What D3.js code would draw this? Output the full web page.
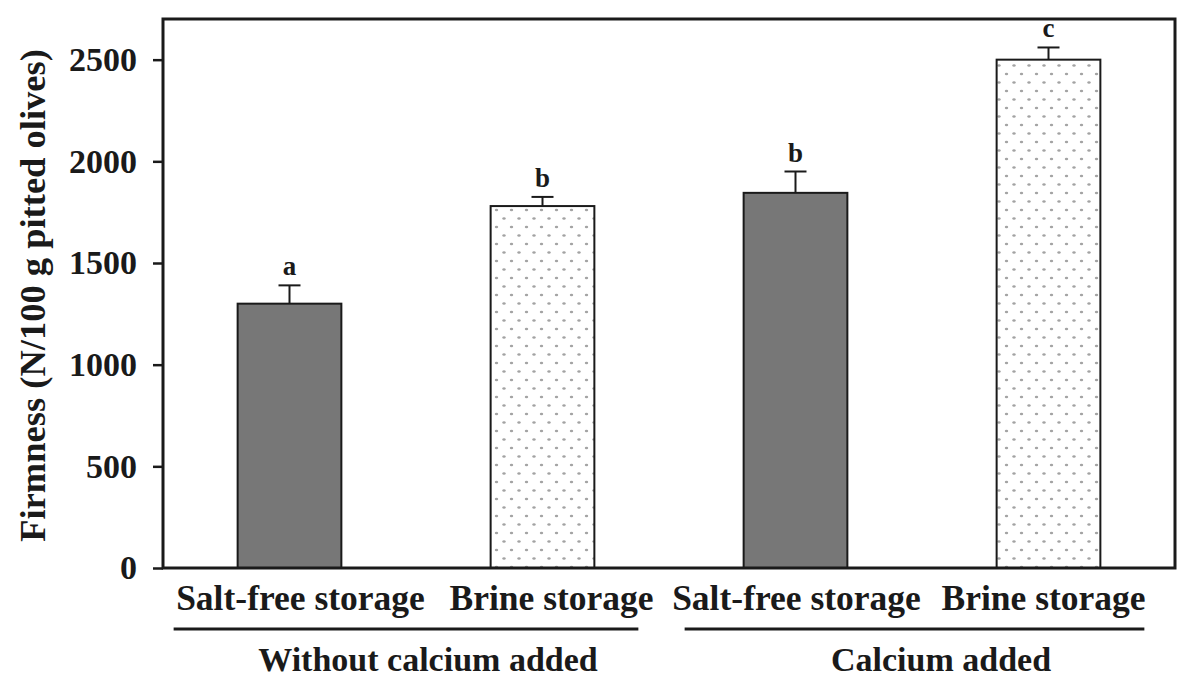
<!DOCTYPE html>
<html>
<head>
<meta charset="utf-8">
<script src="https://cdn.jsdelivr.net/npm/d3@7"></script>
<style>
  html, body { margin: 0; padding: 0; background: #fff; }
  svg { display: block; }
  text { font-family: "Liberation Serif", "Times New Roman", serif; font-weight: bold; fill: #1a1a1a; }
</style>
</head>
<body>
<svg id="chart" width="1185" height="688"></svg>
<script>
// Treatments, in drawing order
const categories = ["Salt-free storage", "Brine storage", "Salt-free storage", "Brine storage"];
const groups = ["Without calcium added", "Without calcium added", "Calcium added", "Calcium added"];
const groupNames = ["Without calcium added", "Calcium added"];
// Firmness means and standard deviations (N/100 g pitted olives)
const firmness = [1300, 1780, 1845, 2500];
const errors = [90, 45, 105, 60];
const letters = ["a", "b", "b", "c"];
const storage = ["salt", "brine", "salt", "brine"];
const yTicks = [0, 500, 1000, 1500, 2000, 2500];

const svg = d3.select("#chart");
const margin = { left: 163, right: 10, top: 19, bottom: 120 };
const W = 1185, H = 688;
const innerW = W - margin.left - margin.right;
const innerH = H - margin.top - margin.bottom;

// Stippled fill for the brine-storage bars
const defs = svg.append("defs");
const pat = defs.append("pattern")
  .attr("id", "dots").attr("patternUnits", "userSpaceOnUse")
  .attr("width", 15).attr("height", 17);
pat.append("rect").attr("width", 15).attr("height", 17).attr("fill", "#fff");
pat.append("ellipse").attr("cx", 3.5).attr("cy", 4).attr("rx", 1.7).attr("ry", 1.2).attr("fill", "#a3a3a3");
pat.append("ellipse").attr("cx", 11).attr("cy", 12.5).attr("rx", 1.7).attr("ry", 1.2).attr("fill", "#a3a3a3");

const g = svg.append("g").attr("transform", `translate(${margin.left},${margin.top})`);

const x = d3.scaleBand()
  .domain(d3.range(categories.length))
  .range([0, innerW])
  .paddingInner(0.59)
  .paddingOuter(0.295);

const y = d3.scaleLinear().domain([0, 2700]).range([innerH, 0]);

// Bars
g.selectAll("rect.bar")
  .data(firmness)
  .join("rect")
  .attr("class", "bar")
  .attr("x", (d, i) => x(i))
  .attr("y", d => y(d))
  .attr("width", x.bandwidth())
  .attr("height", d => innerH - y(d))
  .attr("fill", (d, i) => storage[i] === "salt" ? "#777777" : "url(#dots)")
  .attr("stroke", "#1a1a1a")
  .attr("stroke-width", 2);

// Upper error bars
const eb = g.selectAll("g.err").data(firmness).join("g").attr("class", "err");
eb.append("line")
  .attr("x1", (d, i) => x(i) + x.bandwidth() / 2)
  .attr("x2", (d, i) => x(i) + x.bandwidth() / 2)
  .attr("y1", d => y(d))
  .attr("y2", (d, i) => y(d + errors[i]))
  .attr("stroke", "#1a1a1a").attr("stroke-width", 2);
eb.append("line")
  .attr("x1", (d, i) => x(i) + x.bandwidth() / 2 - 11)
  .attr("x2", (d, i) => x(i) + x.bandwidth() / 2 + 11)
  .attr("y1", (d, i) => y(d + errors[i]))
  .attr("y2", (d, i) => y(d + errors[i]))
  .attr("stroke", "#1a1a1a").attr("stroke-width", 2);

// Significance letters
g.selectAll("text.sig")
  .data(firmness)
  .join("text")
  .attr("class", "sig")
  .attr("x", (d, i) => x(i) + x.bandwidth() / 2)
  .attr("y", (d, i) => y(d + errors[i]) - 10)
  .attr("text-anchor", "middle")
  .attr("font-size", 27)
  .text((d, i) => letters[i]);

// Frame
g.append("rect")
  .attr("x", 0).attr("y", 0).attr("width", innerW).attr("height", innerH)
  .attr("fill", "none").attr("stroke", "#1a1a1a").attr("stroke-width", 3);

// Y axis
const yAxis = g.append("g")
  .call(d3.axisLeft(y).tickValues(yTicks).tickSize(10).tickPadding(16).tickFormat(d3.format("d")));
yAxis.select(".domain").remove();
yAxis.selectAll(".tick line").attr("stroke", "#1a1a1a").attr("stroke-width", 2.5);
yAxis.selectAll(".tick text")
  .attr("font-size", 34)
  .attr("font-family", "Liberation Serif, Times New Roman, serif")
  .attr("font-weight", "bold")
  .attr("fill", "#1a1a1a");

// Y axis title
svg.append("text")
  .attr("transform", `translate(45, ${margin.top + innerH / 2 + 2}) rotate(-90)`)
  .attr("text-anchor", "middle")
  .attr("font-size", 36.5)
  .text("Firmness (N/100 g pitted olives)");

// Category labels, nudged slightly off the bar centres
const catNudge = [11, 9, 1, -5];
g.selectAll("text.cat")
  .data(categories)
  .join("text")
  .attr("class", "cat")
  .attr("x", (d, i) => x(i) + x.bandwidth() / 2 + catNudge[i])
  .attr("y", innerH + 42)
  .attr("text-anchor", "middle")
  .attr("font-size", 35.5)
  .text(d => d);

// Group underlines and labels
const groupExtents = groupNames.map(name => {
  const idx = d3.range(groups.length).filter(i => groups[i] === name);
  return { name, first: idx[0], last: idx[idx.length - 1] };
});
const groupNudge = [12, 19];
g.selectAll("line.grp")
  .data(groupExtents)
  .join("line")
  .attr("class", "grp")
  .attr("x1", (d, i) => x(d.first) - (i === 0 ? 64 : 59))
  .attr("x2", d => x(d.last) + x.bandwidth() + 44)
  .attr("y1", innerH + 61)
  .attr("y2", innerH + 61)
  .attr("stroke", "#1a1a1a").attr("stroke-width", 3);
g.selectAll("text.grp")
  .data(groupExtents)
  .join("text")
  .attr("class", "grp")
  .attr("x", (d, i) => (x(d.first) + x(d.last) + x.bandwidth()) / 2 + groupNudge[i])
  .attr("y", innerH + 103)
  .attr("text-anchor", "middle")
  .attr("font-size", 34)
  .text(d => d.name);
</script>
</body>
</html>
